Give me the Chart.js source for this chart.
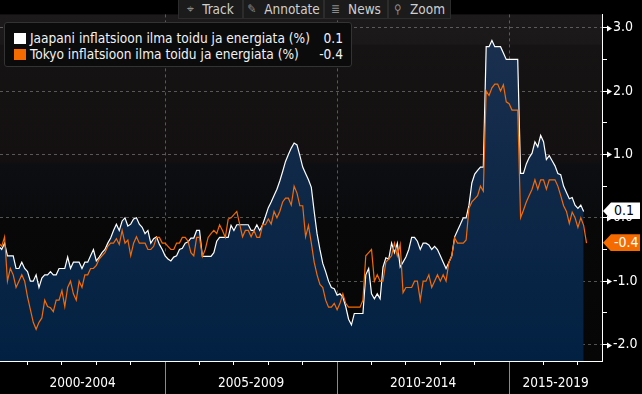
<!DOCTYPE html>
<html lang="fi">
<head>
    <meta charset="UTF-8">
    <title>Jaapani inflatsioon ilma toidu ja energiata</title>
    <script src="https://cdn.jsdelivr.net/npm/chart.js"></script>
    <style>
        * {
            margin: 0;
            padding: 0;
            box-sizing: border-box;
        }

        body {
            background: #000;
            width: 642px;
            height: 394px;
            overflow: hidden;
            font-family: 'Liberation Sans Narrow', 'DejaVu Sans Condensed', 'Liberation Sans', sans-serif;
        }

        #wrap {
            position: relative;
            width: 642px;
            height: 394px;
        }

        #chart {
            position: absolute;
            left: 0;
            top: 0;
        }

        /* Toolbar */
        #toolbar {
            position: absolute;
            left: 178px;
            top: 0;
            height: 19px;
            display: flex;
        }

        #toolbar span {
            display: flex;
            align-items: center;
            justify-content: center;
            height: 19px;
            background: #1b1b1b;
            border: 1px solid #2c2c2c;
            border-top: none;
            color: #cfcfcf;
            font-size: 13.5px;
        }

        #toolbar i {
            font-style: normal;
            color: #8c8c8c;
            margin-right: 8px;
            font-size: 12px;
        }

        /* Legend */
        #legend {
            position: absolute;
            left: 4px;
            top: 22px;
            width: 348px;
            height: 45px;
            background: #0b0b0b;
            border: 1px solid #333;
            border-radius: 3px;
            color: #f2f2f2;
            font-size: 13.6px;
            padding-top: 7px;
        }

        .row {
            position: relative;
            height: 16px;
            line-height: 16px;
        }

        .sw {
            position: absolute;
            left: 9px;
            top: 3px;
            width: 12px;
            height: 11px;
        }

        .name {
            position: absolute;
            left: 25px;
        }

        .val {
            position: absolute;
            right: 8px;
        }

        /* Last value tags */
        .tag {
            position: absolute;
            left: 603px;
            width: 37px;
            height: 17px;
            line-height: 17px;
            font-size: 14px;
            padding-left: 11px;
            clip-path: polygon(0 50%, 8px 0, 100% 0, 100% 100%, 8px 100%);
        }
    </style>
</head>
<body>
<div id="wrap">
    <canvas id="chart" width="642" height="394"></canvas>

    <div id="toolbar">
        <span style="width:65px"><i>⌖</i>Track</span>
        <span style="width:81px"><i>✎</i>Annotate</span>
        <span style="width:64px"><i>≣</i>News</span>
        <span style="width:63px"><i>⚲</i>Zoom</span>
    </div>

    <div id="legend">
        <div class="row"><div class="sw" id="swJ"></div><span class="name" id="nameJ"></span><span class="val" id="valJ"></span></div>
        <div class="row"><div class="sw" id="swT"></div><span class="name" id="nameT"></span><span class="val" id="valT"></span></div>
    </div>

    <div class="tag" id="tagJ"></div>
    <div class="tag" id="tagT"></div>
</div>

<script>
// monthly values, first value = March 2000 (month index 2 counted from Jan 2000)
const firstMonth = 2;

const japanName = 'Jaapani inflatsioon ilma toidu ja energiata (%)';
const japan = [
    -0.45, -0.5, -0.4, -0.6, -0.6, -0.6, -0.8, -0.8, -0.7, -0.8,
    -0.85, -1.0, -1.0, -0.9, -1.1, -0.95, -0.9, -0.9, -0.85, -0.9,
    -0.9, -0.8, -0.8, -0.8, -0.62, -0.8, -0.7, -0.7, -0.7, -0.8,
    -0.7, -0.7, -0.6, -0.5, -0.68, -0.62, -0.55, -0.5, -0.4, -0.32,
    -0.2, -0.1, -0.2, -0.05, 0.0, -0.13, -0.1, -0.02, 0.0, -0.1,
    -0.15, -0.25, -0.2, -0.4, -0.33, -0.3, -0.42, -0.5, -0.6, -0.65,
    -0.68, -0.62, -0.6, -0.5, -0.48, -0.4, -0.38, -0.32, -0.32, -0.2,
    -0.2, -0.61, -0.61, -0.61, -0.61, -0.55, -0.37, -0.31, -0.31, -0.31,
    -0.31, -0.12, -0.2, -0.11, -0.11, -0.11, -0.11, -0.11, -0.2, -0.2,
    -0.11, -0.2, -0.11, 0.02, 0.16, 0.25, 0.35, 0.45, 0.58, 0.73,
    0.89, 1.0, 1.1, 1.18, 1.15, 0.98, 0.8, 0.7, 0.6, 0.48,
    0.1, -0.25, -0.5, -0.72, -0.85, -1.0, -1.1, -1.12, -1.22, -1.2,
    -1.25, -1.4, -1.6, -1.69, -1.51, -1.51, -1.51, -1.51, -0.9, -0.8,
    -1.2, -1.28, -1.2, -1.28, -0.78, -0.63, -0.65, -0.4, -0.55, -0.4,
    -0.78, -0.7, -0.62, -0.5, -0.31, -0.31, -0.37, -0.5, -0.4, -0.4,
    -0.43, -0.5, -0.45, -0.5, -0.6, -0.7, -0.8, -0.7, -0.6, -0.3,
    -0.2, -0.1, 0.0, 0.0, 0.2, 0.55, 0.69, 0.75, 0.8, 0.8,
    2.7, 2.7, 2.8, 2.7, 2.7, 2.7, 2.6, 2.5, 2.5, 2.5,
    2.5, 2.5, 0.7, 0.7, 0.85, 0.95, 1.02, 1.2, 1.12, 1.3,
    1.2, 0.92, 0.98, 0.9, 0.82, 0.7, 0.68, 0.5, 0.4, 0.3,
    0.32, 0.2, 0.15, 0.2, 0.1
];

const tokyoName = 'Tokyo inflatsioon ilma toidu ja energiata (%)';
const tokyo = [
    -0.4, -0.45, -0.3, -1.0, -0.8, -0.9, -1.1, -1.0, -0.9, -1.0,
    -1.25, -1.45, -1.65, -1.76, -1.65, -1.58, -1.3, -1.4, -1.42, -1.48,
    -1.3, -1.3, -1.15, -1.4, -1.1, -1.0, -1.2, -1.3, -1.0, -1.1,
    -0.9, -0.9, -0.8, -0.8, -0.75, -0.65, -0.6, -0.55, -0.45, -0.4,
    -0.4, -0.33, -0.42, -0.2, -0.4, -0.35, -0.6, -0.4, -0.3, -0.4,
    -0.4, -0.4, -0.5, -0.5, -0.45, -0.31, -0.31, -0.4, -0.4, -0.45,
    -0.5, -0.5, -0.4, -0.4, -0.31, -0.31, -0.37, -0.55, -0.6, -0.31,
    -0.31, -0.61, -0.5, -0.31, -0.25, -0.2, -0.25, -0.11, -0.2, -0.31,
    -0.02, 0.0, 0.05, 0.1, -0.1, -0.3, -0.2, -0.2, -0.3, -0.2,
    -0.31, -0.31, -0.11, -0.11, -0.02, -0.1, 0.1, 0.0, 0.1, 0.25,
    0.31, 0.31, 0.2, 0.5, 0.39, 0.19, 0.19, -0.3, -0.12, -0.4,
    -0.7, -0.9, -1.05, -1.1, -1.3, -1.41, -1.41, -1.35, -1.45, -1.35,
    -1.2, -1.35, -1.41, -1.41, -1.41, -1.41, -1.41, -1.3, -0.6, -0.55,
    -0.5, -1.0, -0.9, -1.0, -1.0, -0.7, -0.65, -0.6, -0.4, -0.6,
    -0.42, -1.18, -1.1, -1.1, -1.1, -1.0, -1.0, -1.3, -1.0, -1.0,
    -0.9, -1.1, -1.0, -0.9, -1.0, -0.9, -1.0, -0.7, -0.6, -0.32,
    -0.4, -0.4, -0.4, -0.35, 0.15, 0.25, 0.3, 0.35, 0.5, 0.42,
    2.0, 1.93, 2.05, 2.11, 2.11, 2.0, 2.1, 1.83, 1.8, 1.7,
    1.7, 1.7, 0.0, 0.12, 0.25, 0.35, 0.45, 0.6, 0.45, 0.6,
    0.6, 0.45, 0.6, 0.6, 0.6, 0.5, 0.35, 0.19, 0.1, -0.09,
    0.09, 0.0, -0.15, 0.0, -0.12, -0.4
];

// x axis: months since Jan 2000, 5-year blocks
const periodLabels = ['2000-2004', '2005-2009', '2010-2014', '2015-2019'];
const periodStarts = [0, 60, 120, 180, 240];
const xMin = 2.4;
const xMax = 212.4;

// y axis
const yMin = -2.26;
const yMax = 3.21;
const yTickValues = [-2, -1.5, -1, -0.5, 0, 0.5, 1, 1.5, 2, 2.5, 3];

const WHITE = '#ffffff';
const ORANGE = '#f56b00';
const GRID = 'rgba(135, 135, 135, 0.6)';
const FONT = "'Liberation Sans Narrow', 'DejaVu Sans Condensed', 'Liberation Sans', sans-serif";

const toPoints = arr => arr.map((v, k) => ({ x: firstMonth + k, y: v }));

// label ticks sit in the middle of the visible part of each block
const labelAt = new Map();
periodLabels.forEach((lab, k) => {
    const a = Math.max(periodStarts[k], xMin);
    const b = Math.min(periodStarts[k + 1], xMax);
    labelAt.set((a + b) / 2, lab);
});
const periodBreaks = periodStarts.filter(m => m > xMin && m < xMax);

const backdrop = {
    id: 'backdrop',
    beforeDraw(chart) {
        const { ctx, chartArea: a, width, height } = chart;
        ctx.save();
        ctx.fillStyle = '#000';
        ctx.fillRect(0, 0, width, height);
        const g = ctx.createLinearGradient(0, a.top, 0, a.bottom);
        g.addColorStop(0, '#1c1a1a');
        g.addColorStop(0.085, '#1a1818');
        g.addColorStop(0.09, '#151313');
        g.addColorStop(0.42, '#141011');
        g.addColorStop(0.435, '#0c0e12');
        g.addColorStop(0.58, '#0a0b0d');
        g.addColorStop(0.59, '#080808');
        g.addColorStop(1, '#060606');
        ctx.fillStyle = g;
        ctx.fillRect(a.left, a.top, a.right - a.left, a.bottom - a.top);
        ctx.restore();
    }
};

const axisMarks = {
    id: 'axisMarks',
    afterDraw(chart) {
        const { ctx, chartArea: a, scales: { x, y } } = chart;
        ctx.save();
        ctx.strokeStyle = '#8a8a8a';
        ctx.lineWidth = 1;
        periodBreaks.forEach(m => {
            const px = Math.round(x.getPixelForValue(m)) + 0.5;
            ctx.beginPath();
            ctx.moveTo(px, a.bottom + 1);
            ctx.lineTo(px, chart.height);
            ctx.stroke();
        });
        // little arrow heads on the whole-number ticks
        ctx.fillStyle = WHITE;
        yTickValues.filter(v => Number.isInteger(v)).forEach(v => {
            const py = Math.round(y.getPixelForValue(v)) + 0.5;
            ctx.beginPath();
            ctx.moveTo(a.right + 5, py - 3);
            ctx.lineTo(a.right + 10, py);
            ctx.lineTo(a.right + 5, py + 3);
            ctx.closePath();
            ctx.fill();
        });
        ctx.restore();
    }
};

const ctx = document.getElementById('chart').getContext('2d');
const chart = new Chart(ctx, {
    type: 'line',
    data: {
        datasets: [{
            label: tokyoName,
            data: toPoints(tokyo),
            borderColor: ORANGE,
            borderWidth: 1.2,
            pointRadius: 0,
            fill: false
        }, {
            label: japanName,
            data: toPoints(japan),
            borderColor: WHITE,
            borderWidth: 1.2,
            pointRadius: 0,
            fill: 'start',
            backgroundColor: (c) => {
                const area = c.chart.chartArea;
                if (!area) return 'rgba(10, 35, 65, 1)';
                const g = c.chart.ctx.createLinearGradient(0, area.top, 0, area.bottom);
                g.addColorStop(0, '#1d3150');
                g.addColorStop(0.5, '#0f2848');
                g.addColorStop(1, '#022142');
                return g;
            }
        }]
    },
    options: {
        responsive: false,
        animation: false,
        devicePixelRatio: 1,
        layout: { padding: 0 },
        plugins: {
            legend: { display: false },
            tooltip: { enabled: false }
        },
        scales: {
            x: {
                type: 'linear',
                min: xMin,
                max: xMax,
                afterFit: s => { s.height = 33; },
                afterBuildTicks: s => {
                    const t = [];
                    for (let m = 12; m <= s.max; m += 12) t.push({ value: m });
                    labelAt.forEach((lab, v) => t.push({ value: v }));
                    t.sort((p, q) => p.value - q.value);
                    s.ticks = t;
                },
                ticks: {
                    autoSkip: false,
                    maxRotation: 0,
                    padding: 10,
                    color: WHITE,
                    font: { family: FONT, size: 13.5 },
                    callback: v => labelAt.get(v) || ''
                },
                grid: {
                    tickLength: 4,
                    color: c => (c.tick && periodBreaks.includes(c.tick.value)) ? GRID : 'transparent',
                    tickColor: c => (c.tick && labelAt.has(c.tick.value)) ? 'transparent' : WHITE
                },
                border: { color: WHITE, width: 1, dash: [3, 3] }
            },
            y: {
                type: 'linear',
                position: 'right',
                min: yMin,
                max: yMax,
                afterFit: s => { s.width = 40; },
                afterBuildTicks: s => {
                    s.ticks = yTickValues.map(v => ({ value: v }));
                },
                ticks: {
                    autoSkip: false,
                    padding: 6,
                    color: WHITE,
                    font: { family: FONT, size: 14 },
                    callback: v => Number.isInteger(v) ? v.toFixed(1) : ''
                },
                grid: {
                    tickLength: 5,
                    color: c => (c.tick && Number.isInteger(c.tick.value)) ? GRID : 'transparent',
                    tickColor: WHITE
                },
                border: { color: WHITE, width: 1, dash: [3, 3] }
            }
        }
    },
    plugins: [backdrop, axisMarks]
});

// legend and last value tags
const lastJ = japan[japan.length - 1];
const lastT = tokyo[tokyo.length - 1];

document.getElementById('swJ').style.background = WHITE;
document.getElementById('swT').style.background = ORANGE;
document.getElementById('nameJ').textContent = japanName;
document.getElementById('nameT').textContent = tokyoName;
document.getElementById('valJ').textContent = lastJ.toFixed(1);
document.getElementById('valT').textContent = lastT.toFixed(1);

const tagJ = document.getElementById('tagJ');
tagJ.textContent = lastJ.toFixed(1);
tagJ.style.background = WHITE;
tagJ.style.color = '#000';
tagJ.style.top = (chart.scales.y.getPixelForValue(lastJ) - 9) + 'px';

const tagT = document.getElementById('tagT');
tagT.textContent = lastT.toFixed(1);
tagT.style.background = ORANGE;
tagT.style.color = '#fff';
tagT.style.top = (chart.scales.y.getPixelForValue(lastT) - 9) + 'px';
</script>
</body>
</html>
